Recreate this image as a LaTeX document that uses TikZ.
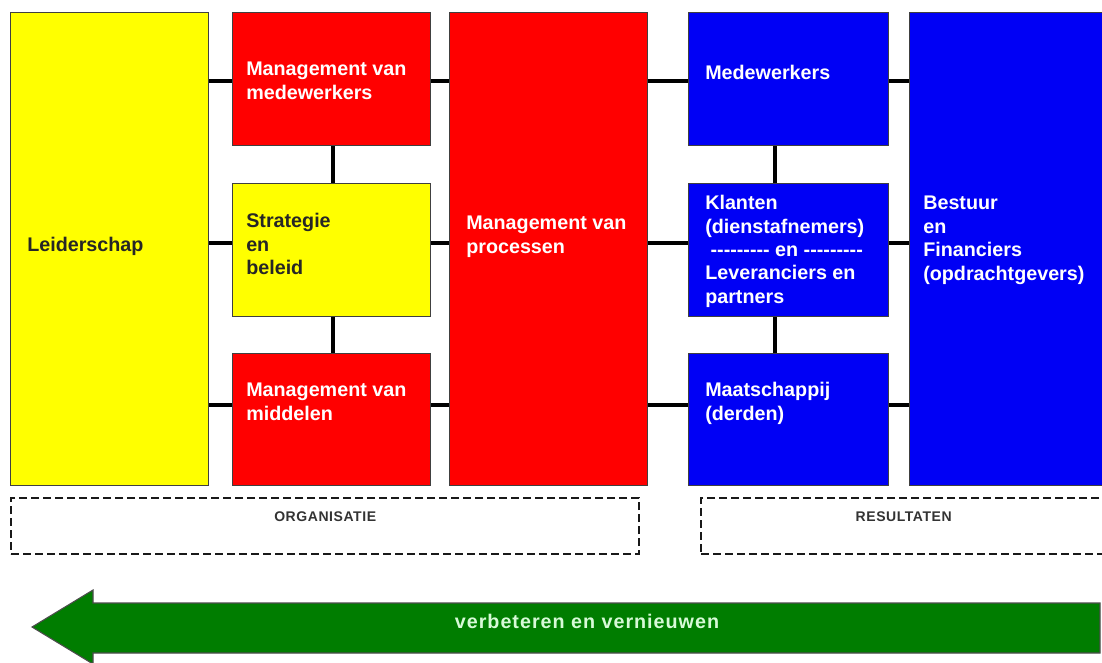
\documentclass[tikz,border=0pt]{standalone}
\usepackage{fontspec}
\setmainfont{Liberation Sans}
\usepackage{tikz}

\definecolor{efqmyellow}{RGB}{255,255,0}
\definecolor{efqmred}{RGB}{255,0,0}
\definecolor{efqmblue}{RGB}{0,0,245}
\definecolor{efqmgreen}{RGB}{0,125,0}
\definecolor{arrowtext}{RGB}{215,250,215}
\newcommand{\boxfont}{\fontsize{14.8}{17.6}\selectfont\bfseries}
\newcommand{\hyphrow}{-{}-{}-{}-{}-{}-{}-{}-{}-}

\begin{document}
\begin{tikzpicture}[x=0.75pt,y=-0.75pt,
  box/.style 2 args={draw=black!75,line width=1pt,inner sep=0pt,anchor=north west,
    minimum width=#1*0.75pt,minimum height=#2*0.75pt},
  group/.style 2 args={draw=black!90,line width=1.8pt,dash pattern=on 6pt off 3pt,
    inner sep=0pt,anchor=north west,minimum width=#1*0.75pt,minimum height=#2*0.75pt},
  txt/.style={font=\boxfont,align=left,inner sep=0pt,anchor=north west},
  grplbl/.style={font=\fontsize{10.5}{12}\selectfont\bfseries\addfontfeature{LetterSpace=4},
    text=black!80,inner sep=0pt},
  conn/.style={line width=3pt}]
\useasboundingbox (0,0) rectangle (1102,662);
\fill[white] (0,0) rectangle (1102,662);
% organisatie
\node[box={198}{473},fill=efqmyellow] (lead) at (10,12) {};
\node[box={198}{133},fill=efqmred] (mmw) at (232,12) {};
\node[box={198}{133},fill=efqmyellow] (strat) at (232,183) {};
\node[box={198}{132},fill=efqmred] (mid) at (232,353) {};
\node[box={198}{473},fill=efqmred] (proc) at (449,12) {};
% resultaten
\node[box={200}{133},fill=efqmblue] (medw) at (688,12) {};
\node[box={200}{133},fill=efqmblue] (klant) at (688,183) {};
\node[box={200}{132},fill=efqmblue] (maat) at (688,353) {};
\node[box={200}{473},fill=efqmblue] (best) at (909,12) {};
% connectors
\coordinate (row1) at (0,81);
\coordinate (row2) at (0,243);
\coordinate (row3) at (0,405);
\coordinate (colL) at (333,0);
\coordinate (colR) at (775,0);
\foreach \a/\b/\r in {lead/mmw/row1,lead/strat/row2,lead/mid/row3,
  mmw/proc/row1,strat/proc/row2,mid/proc/row3,
  proc/medw/row1,proc/klant/row2,proc/maat/row3,
  medw/best/row1,klant/best/row2,maat/best/row3}
  \draw[conn] (\a.east |- \r) -- (\b.west |- \r);
\foreach \a/\b/\c in {mmw/strat/colL,strat/mid/colL,medw/klant/colR,klant/maat/colR}
  \draw[conn] (\a.south -| \c) -- (\b.north -| \c);
% labels
\node[txt,text=black!85] (leadt) at (27,237) {Leiderschap};
\node[txt,text=white] (mmwt) at (246,62) {Management van\\medewerkers};
\node[txt,text=black!85] (stratt) at (246,213) {Strategie\\en\\beleid};
\node[txt,text=white] (midt) at (246,383) {Management van\\middelen};
\node[txt,text=white] (proct) at (466,216) {Management van\\processen};
\node[txt,text=white] (medwt) at (705,65) {Medewerkers};
\node[txt,text=white] (klantt) at (705,195) {Klanten\\(dienstafnemers)\\\hspace*{4pt}\hyphrow{} en \hyphrow\\Leveranciers en\\partners};
\node[txt,text=white] (maatt) at (705,382) {Maatschappij\\(derden)};
\node[txt,text=white] (bestt) at (923,196) {Bestuur\\en\\Financiers\\(opdrachtgevers)};
% groepen
\node[group={628}{56}] (org) at (10,497) {};
\node[group={405}{56}] (res) at (700,497) {};
\node[grplbl] (orgl) at ([yshift=-15pt]org.north) {ORGANISATIE};
\node[grplbl] (resl) at ([yshift=-15pt]res.north) {RESULTATEN};
% pijl
\fill[efqmgreen,draw=black!70,line width=0.8pt] (1100,603) -- (93,603) -- (93,590)
  -- (32,627) -- (93,664) -- (93,653) -- (1100,653) -- cycle;
\node[font=\boxfont\addfontfeature{LetterSpace=5},text=arrowtext,inner sep=0pt] (arrl)
  at (587,621) {verbeteren en vernieuwen};
\end{tikzpicture}
\end{document}
